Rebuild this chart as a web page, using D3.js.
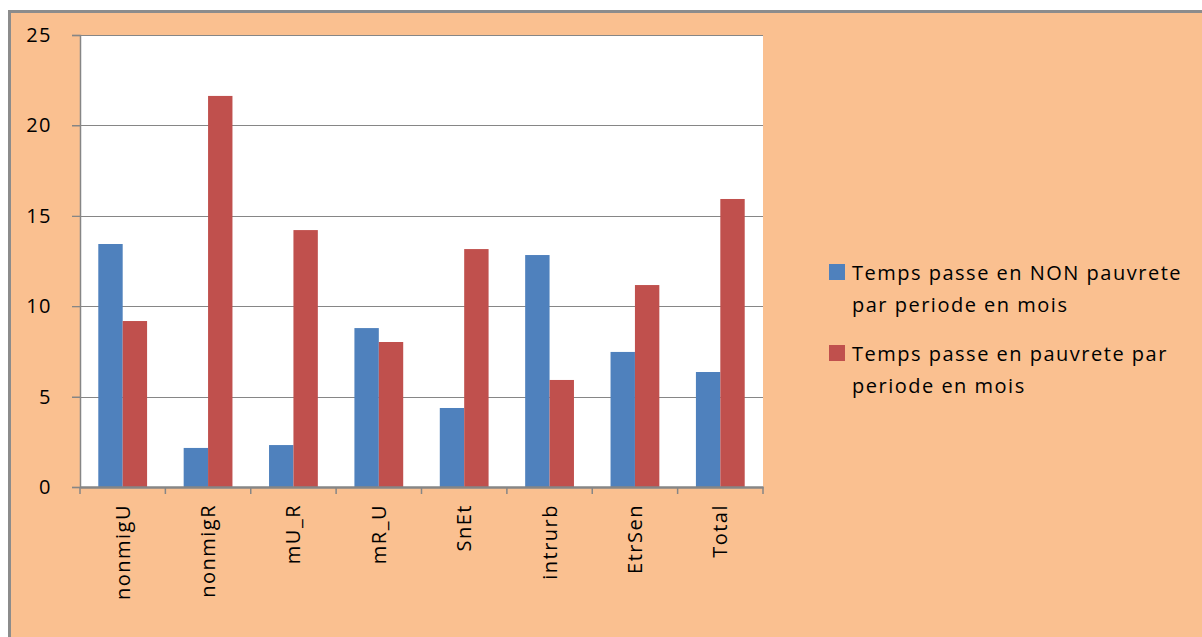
<!DOCTYPE html>
<html>
<head>
<meta charset="utf-8">
<script src="https://cdn.jsdelivr.net/npm/d3@7"></script>
<style>
    body { margin: 0; background: #fff; }
    svg text { font-family: "Open Sans", "Noto Sans", sans-serif; fill: #000; font-size: 20px; letter-spacing: 1.5px; }
</style>
</head>
<body>
<svg id="chart" width="1202" height="637"></svg>
<script>
// chart data
const categories = ["nonmigU", "nonmigR", "mU_R", "mR_U", "SnEt", "intrurb", "EtrSen", "Total"];
const nonPauvrete = [13.44, 2.16, 2.32, 8.79, 4.37, 12.83, 7.47, 6.36];
const pauvrete = [9.18, 21.63, 14.21, 8.02, 13.16, 5.92, 11.17, 15.93];
const seriesNames = [
    ["Temps passe en NON pauvrete", "par periode en mois"],
    ["Temps passe en pauvrete par", "periode en mois"]
];
const yTicks = [0, 5, 10, 15, 20, 25];
const colors = ["#4F81BD", "#C0504D"];

const svg = d3.select("#chart");

// outer chart area
svg.append("rect")
    .attr("x", 9.5).attr("y", 11.5)
    .attr("width", 1202).attr("height", 637)
    .attr("fill", "#FAC090")
    .attr("stroke", "#8C8C8C")
    .attr("stroke-width", 3);

const plot = { left: 80, right: 763, top: 35, bottom: 487 };

svg.append("rect")
    .attr("x", plot.left).attr("y", plot.top)
    .attr("width", plot.right - plot.left)
    .attr("height", plot.bottom - plot.top)
    .attr("fill", "#fff");

const x = d3.scaleBand()
    .domain(categories)
    .range([plot.left, plot.right])
    .paddingInner(0)
    .paddingOuter(0);

// bar width so that the gap is 150% of a bar
const barW = x.bandwidth() / 3.5;

const y = d3.scaleLinear()
    .domain([0, 25])
    .range([plot.bottom, plot.top]);

// gridlines
svg.append("g")
    .selectAll("line")
    .data(yTicks.filter(d => d > 0))
    .enter()
    .append("line")
    .attr("x1", plot.left - 8)
    .attr("x2", plot.right)
    .attr("y1", d => Math.round(y(d)) + 0.5)
    .attr("y2", d => Math.round(y(d)) + 0.5)
    .attr("stroke", "#868686")
    .attr("stroke-width", 1.2);

// bars
const series = [nonPauvrete, pauvrete];
series.forEach((vals, s) => {
    svg.append("g")
        .selectAll("rect")
        .data(vals)
        .enter()
        .append("rect")
        .attr("x", (d, i) => x(categories[i]) + barW * 0.75 + s * barW)
        .attr("y", d => y(d))
        .attr("width", barW)
        .attr("height", d => plot.bottom - y(d))
        .attr("fill", colors[s]);
});

// y axis
const yAxis = svg.append("g")
    .attr("transform", `translate(${plot.left},0)`)
    .call(d3.axisLeft(y).tickValues(yTicks).tickSize(8).tickPadding(20));
yAxis.select(".domain").attr("stroke", "#868686").attr("stroke-width", 1.5);
yAxis.selectAll(".tick line").attr("stroke", "#868686").attr("stroke-width", 1.2);
yAxis.selectAll(".tick text")
    .attr("font-size", null)
    .attr("font-family", null)
    .attr("fill", "#000");

// x axis
const xAxis = svg.append("g")
    .attr("transform", `translate(0,${plot.bottom})`)
    .call(d3.axisBottom(x).tickSize(0).tickFormat(""));
xAxis.select(".domain").attr("stroke", "#868686").attr("stroke-width", 2.5);

// x tick marks at category boundaries
svg.append("g")
    .selectAll("line")
    .data(categories.concat(["end"]))
    .enter()
    .append("line")
    .attr("x1", (d, i) => plot.left + i * x.step())
    .attr("x2", (d, i) => plot.left + i * x.step())
    .attr("y1", plot.bottom)
    .attr("y2", plot.bottom + 7)
    .attr("stroke", "#868686")
    .attr("stroke-width", 1.5);

// x labels, rotated
svg.append("g")
    .selectAll("text")
    .data(categories)
    .enter()
    .append("text")
    .attr("transform", d => `translate(${x(d) + x.bandwidth() / 2},504) rotate(-90)`)
    .attr("text-anchor", "end")
    .attr("dy", "0.35em")
    .text(d => d);

// legend
const legendRows = [[280, 312], [361, 393]];
seriesNames.forEach((lines, s) => {
    svg.append("rect")
        .attr("x", 829)
        .attr("y", legendRows[s][0] - 16)
        .attr("width", 16)
        .attr("height", 16)
        .attr("fill", colors[s]);
    lines.forEach((line, j) => {
        svg.append("text")
            .attr("x", 852)
            .attr("y", legendRows[s][j])
            .text(line);
    });
});
</script>
</body>
</html>
